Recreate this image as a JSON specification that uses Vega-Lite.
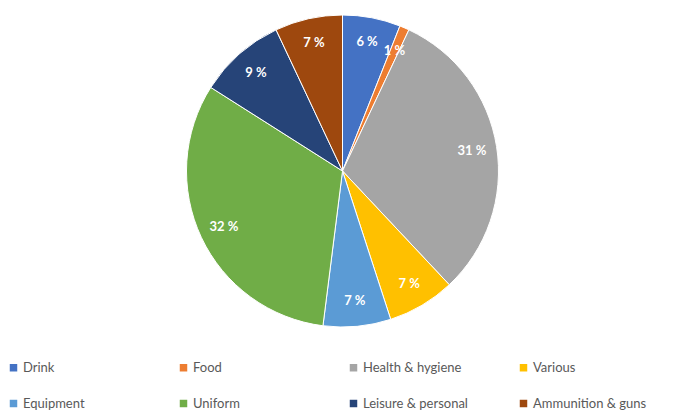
{
  "$schema": "https://vega.github.io/schema/vega-lite/v6.json",
  "width": 685,
  "height": 342,
  "autosize": {"type": "none"},
  "padding": {"left": 0, "top": 0, "right": 0, "bottom": 69},
  "background": "white",
  "view": {"stroke": null},
  "data": {
    "values": [
      {"category": "Drink", "value": 6, "label": "6 %", "order": 1},
      {"category": "Food", "value": 1, "label": "1 %", "order": 2},
      {"category": "Health & hygiene", "value": 31, "label": "31 %", "order": 3},
      {"category": "Various", "value": 7, "label": "7 %", "order": 4},
      {"category": "Equipment", "value": 7, "label": "7 %", "order": 5},
      {"category": "Uniform", "value": 32, "label": "32 %", "order": 6},
      {"category": "Leisure & personal", "value": 9, "label": "9 %", "order": 7},
      {"category": "Ammunition & guns", "value": 7, "label": "7 %", "order": 8}
    ]
  },
  "encoding": {
    "theta": {"field": "value", "type": "quantitative", "stack": true},
    "order": {"field": "order", "type": "quantitative"},
    "color": {
      "field": "category",
      "type": "nominal",
      "scale": {
        "domain": ["Drink", "Food", "Health & hygiene", "Various", "Equipment", "Uniform", "Leisure & personal", "Ammunition & guns"],
        "range": ["#4472C4", "#ED7D31", "#A5A5A5", "#FFC000", "#5B9BD5", "#70AD47", "#264478", "#9E480E"]
      },
      "legend": {
        "title": null,
        "orient": "none",
        "legendX": 7,
        "legendY": 361,
        "direction": "horizontal",
        "columns": 4,
        "gridAlign": "all",
        "columnPadding": 40,
        "rowPadding": 22,
        "padding": 0,
        "symbolType": "square",
        "symbolSize": 56,
        "symbolStrokeWidth": 0,
        "labelFont": "Lato",
        "labelFontSize": 13,
        "labelColor": "#595959",
        "labelOffset": 3,
        "labelLimit": 200
      }
    }
  },
  "layer": [
    {
      "mark": {"type": "arc", "outerRadius": 156, "stroke": "white", "strokeWidth": 1}
    },
    {
      "mark": {"type": "text", "radius": 131, "font": "Lato", "fontSize": 13, "fontWeight": "bold", "color": "white"},
      "encoding": {
        "text": {"field": "label", "type": "nominal"},
        "color": {"value": "white"}
      }
    }
  ]
}
